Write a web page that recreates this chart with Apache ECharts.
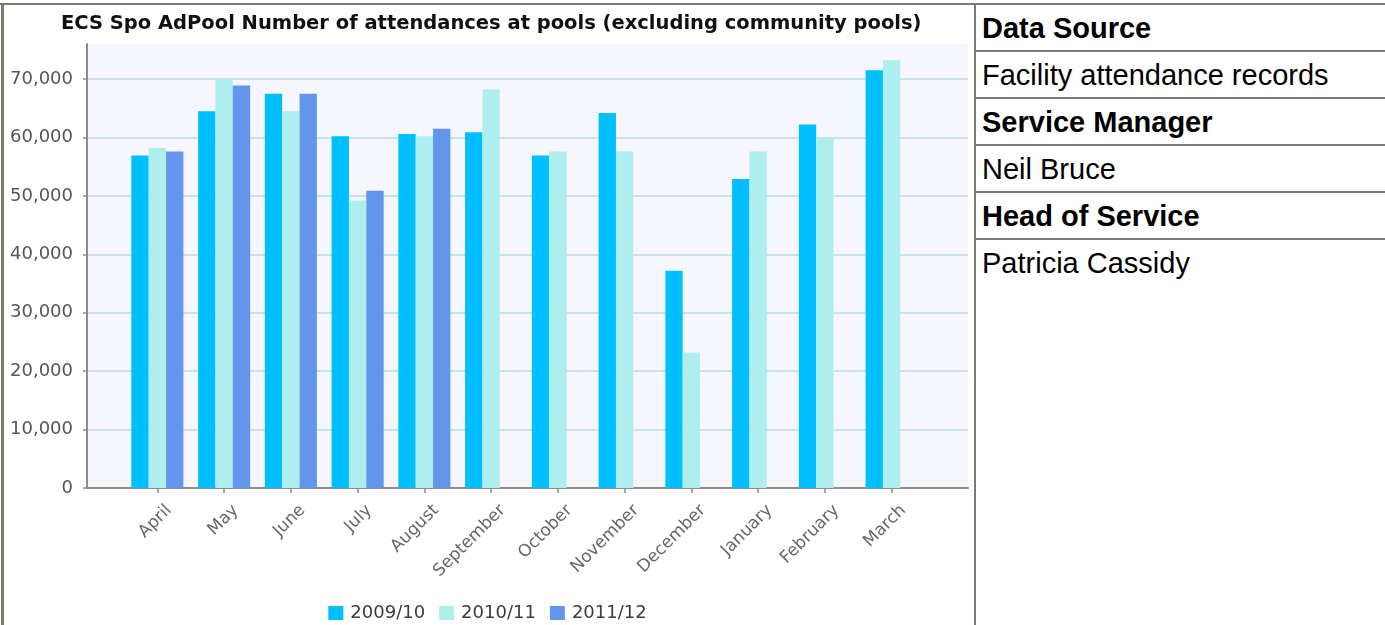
<!DOCTYPE html>
<html>
<head>
<meta charset="utf-8">
<script src="https://cdn.jsdelivr.net/npm/echarts@6/dist/echarts.min.js"></script>
<style>
  html, body { margin: 0; padding: 0; background: #fff; }
  #page { position: relative; width: 1385px; height: 625px; overflow: hidden; }
  #chart { position: absolute; left: 0; top: 0; width: 975px; height: 625px; }
  .frame { position: absolute; background: #7b7b71; }
  .info { position: absolute; left: 976px; top: 5px; width: 409px; }
  .row {
    height: 45px; border-bottom: 2px solid #7b7b71;
    font-family: "Liberation Sans", Arial, sans-serif; font-size: 29px; color: #000;
    line-height: 47px; padding-left: 6px; box-sizing: content-box;
  }
  .row b { font-weight: bold; }
  .row.last { border-bottom: none; }
</style>
</head>
<body>
<div id="page">
  <div id="chart"></div>
  <div class="frame" style="left:0;top:3px;width:1385px;height:2px"></div>
  <div class="frame" style="left:1px;top:3px;width:3px;height:622px"></div>
  <div class="frame" style="left:974px;top:3px;width:2px;height:622px"></div>
  <div class="info">
    <div class="row"><b>Data Source</b></div>
    <div class="row">Facility attendance records</div>
    <div class="row"><b>Service Manager</b></div>
    <div class="row">Neil Bruce</div>
    <div class="row"><b>Head of Service</b></div>
    <div class="row last">Patricia Cassidy</div>
  </div>
</div>
<script>
  const months = ["April", "May", "June", "July", "August", "September",
    "October", "November", "December", "January", "February", "March"];
  const seasons = ["2009/10", "2010/11", "2011/12"];
  const y2009 = [56900, 64500, 67500, 60200, 60600, 60900, 56900, 64200, 37200, 52900, 62200, 71500];
  const y2010 = [58200, 70000, 64500, 49200, 60200, 68200, 57600, 57600, 23200, 57600, 60000, 73200];
  const y2011 = [57600, 68900, 67500, 50900, 61500, null, null, null, null, null, null, null];
  const colors = ["#00bfff", "#afeeee", "#6495ed"];

  const chart = echarts.init(document.getElementById("chart"));
  const font = '"DejaVu Sans", Verdana, sans-serif';

  const option = {
    animation: false,
    title: {
      text: "ECS Spo AdPool Number of attendances at pools (excluding community pools)",
      left: 56,
      top: 9,
      textStyle: { fontFamily: font, fontSize: 19.5, fontWeight: "bold", color: "#111" }
    },
    legend: {
      data: seasons,
      left: "center",
      top: 599,
      icon: "rect",
      itemWidth: 15,
      itemHeight: 14,
      itemGap: 14,
      textStyle: { fontFamily: font, fontSize: 18, color: "#3c3c3c", padding: [0, 0, 0, 2] }
    },
    grid: [
      { left: 87, top: 44, width: 881, height: 444, show: true, backgroundColor: "#f6f7fd", borderWidth: 0 },
      { left: 124, top: 44, width: 801, height: 444 }
    ],
    xAxis: [
      {
        gridIndex: 0, type: "value", min: 0, max: 1,
        axisLine: { show: true, lineStyle: { color: "#8c8c8c", width: 2 } },
        axisTick: { show: false }, axisLabel: { show: false }, splitLine: { show: false }
      },
      {
        gridIndex: 1, type: "category", data: months,
        axisLine: { show: false },
        axisTick: { show: true, alignWithLabel: true, length: 5, lineStyle: { color: "#8c8c8c", width: 1.5 } },
        axisLabel: {
          rotate: 45, margin: 8, fontFamily: font, fontSize: 17, color: "#666",
          verticalAlign: "top", padding: [8, 0, 0, 0]
        }
      }
    ],
    yAxis: [
      {
        gridIndex: 0, type: "value", min: 0, max: 76000, interval: 10000,
        axisLine: { show: true, lineStyle: { color: "#8c8c8c", width: 2 } },
        axisTick: { show: true, length: 4, lineStyle: { color: "#8c8c8c", width: 1.5 } },
        axisLabel: {
          margin: 14, fontFamily: font, fontSize: 18, color: "#555", showMaxLabel: false,
          formatter: v => (v % 10000 === 0 ? echarts.format.addCommas(v) : "")
        },
        splitLine: { show: true, showMaxLine: false, lineStyle: { color: "#b5dbe8", width: 1.5 } }
      },
      { gridIndex: 1, type: "value", min: 0, max: 76000, show: false }
    ],
    series: [
      { name: seasons[0], type: "bar", xAxisIndex: 1, yAxisIndex: 1, data: y2009,
        itemStyle: { color: colors[0] }, barGap: "0%", barCategoryGap: "22%" },
      { name: seasons[1], type: "bar", xAxisIndex: 1, yAxisIndex: 1, data: y2010,
        itemStyle: { color: colors[1] }, barGap: "0%", barCategoryGap: "22%" },
      { name: seasons[2], type: "bar", xAxisIndex: 1, yAxisIndex: 1, data: y2011,
        itemStyle: { color: colors[2] }, barGap: "0%", barCategoryGap: "22%" }
    ]
  };
  chart.setOption(option);
</script>
</body>
</html>
